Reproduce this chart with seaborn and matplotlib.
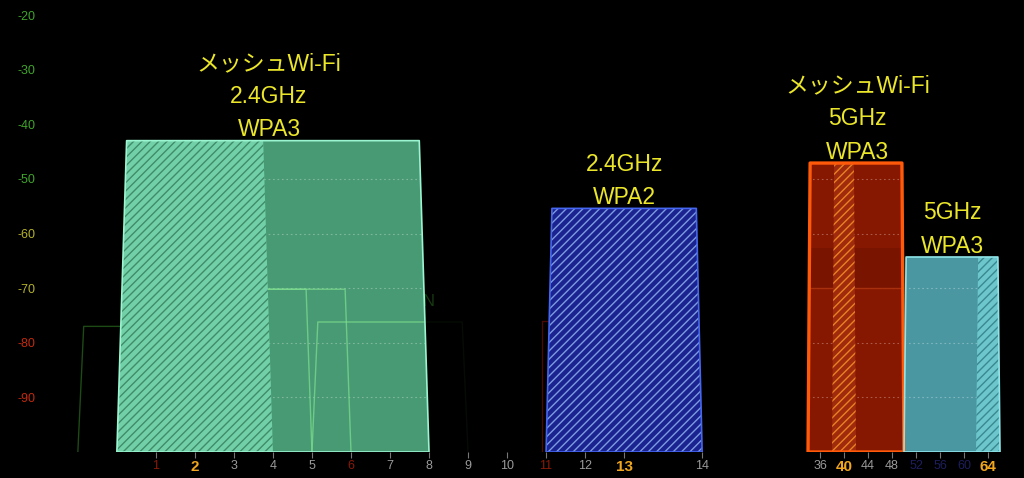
import matplotlib
matplotlib.use("Agg")
import matplotlib.pyplot as plt
import seaborn as sns

sns.set_theme(style="dark", rc={"axes.facecolor": "black", "figure.facecolor": "black"})
plt.rcParams['font.family'] = ['Liberation Sans', 'Noto Sans CJK JP', 'DejaVu Sans']
plt.rcParams['hatch.linewidth'] = 1.0

FLOOR = -100
YELLOW = '#ebe62a'

# signal axis (dBm)
dbm_ticks = [-20, -30, -40, -50, -60, -70, -80, -90]
dbm_colors = ['#3fa52a'] * 4 + ['#b5b22a'] * 2 + ['#c22a0c'] * 2

# 2.4 GHz channels (14 sits one slot past 13)
ch24_labels = ['1', '2', '3', '4', '5', '6', '7', '8', '9', '10', '11', '12', '13', '14']
ch24_slots = [1, 2, 3, 4, 5, 6, 7, 8, 9, 10, 11, 12, 13, 15]
ch24_colors = ['#8a1a08', '#f0a61e', '#9a9a9a', '#9a9a9a', '#9a9a9a', '#8a1a08', '#9a9a9a',
               '#9a9a9a', '#9a9a9a', '#9a9a9a', '#8a1a08', '#9a9a9a', '#f0a61e', '#9a9a9a']
ch24_bold = ['2', '13']

# 5 GHz channels
ch5_labels = ['36', '40', '44', '48', '52', '56', '60', '64']
ch5_colors = ['#9a9a9a', '#f0a61e', '#9a9a9a', '#9a9a9a', '#1e1e5e', '#1e1e5e', '#1e1e5e', '#f0a61e']
ch5_bold = ['40', '64']

# highlighted networks
mesh24_span, mesh24_primary, mesh24_dbm = [0, 8], [0, 4], -43
mesh24_text = "メッシュWi-Fi\n2.4GHz\nWPA3"
wpa2_span, wpa2_primary, wpa2_dbm = [11, 15], [11, 15], -55.4
wpa2_text = "2.4GHz\nWPA2"
mesh5_span, mesh5_primary, mesh5_dbm = [34, 50], [38, 42], -47.1
mesh5_text = "メッシュWi-Fi\n5GHz\nWPA3"
wpa3_span, wpa3_primary, wpa3_dbm = [50, 66], [62, 66], -64.3
wpa3_text = "5GHz\nWPA3"

# faint neighbour networks
bg24_spans = [[-1, 3], [1, 5], [2, 6], [5, 9], [10.9, 14.5]]
bg24_dbm = [-77, -70.2, -70.2, -76.2, -76]
bg24_colors = ['#1d4a15', '#060c05', '#060c05', '#060c05', '#4a0c02']
bg5_spans = [[34, 50]]
bg5_dbm = [-70]


def outline(span, dbm, inset):
    lo, hi = span
    return [lo, lo + inset, hi - inset, hi], [FLOOR, dbm, dbm, FLOOR]


def draw_network(ax, span, primary, dbm, inset, fill, hbase, hcol, edge, lw):
    xs, ys = outline(span, dbm, inset)
    body = ax.fill(xs, ys, facecolor=fill, edgecolor='none', zorder=3)[0]
    for g in dbm_ticks:
        if g < dbm:
            ln, = ax.plot([span[0], span[1]], [g, g], color='white', alpha=0.3, lw=0.8,
                          ls=(0, (1.5, 2.5)), zorder=4)
            ln.set_clip_path(body)
    px, py = outline(primary, dbm, inset)
    ax.fill(px, py, facecolor=hbase, edgecolor='none', zorder=5)
    ax.fill(px, py, facecolor='none', edgecolor=hcol, hatch='////', linewidth=0, zorder=6)
    ax.fill(xs, ys, facecolor='none', edgecolor=edge, lw=lw, joinstyle='round', zorder=7)
    return body


def label(ax, x, dbm, text):
    ax.annotate(text, xy=(x, dbm), xytext=(0, -0.5), textcoords='offset points',
                ha='center', va='bottom', color=YELLOW, fontsize=16.5, linespacing=1.57, zorder=9)


fig = plt.figure(figsize=(10.24, 4.78), dpi=100)
ax1 = fig.add_axes([40 / 1024, 26 / 478, 700 / 1024, 452 / 478])
ax2 = fig.add_axes([750 / 1024, 26 / 478, 274 / 1024, 452 / 478])

for ax in (ax1, ax2):
    ax.set_facecolor('black')
    ax.set_ylim(FLOOR, -17.25)
    for s in ax.spines.values():
        s.set_visible(False)
    ax.grid(False)

# --- 2.4 GHz ---
ax1.set_xlim(-1.97, 15.97)
for span, dbm, c in zip(bg24_spans, bg24_dbm, bg24_colors):
    xs, ys = outline(span, dbm, 0.15 if span[0] < 10 else 0.0)
    sns.lineplot(x=xs, y=ys, sort=False, estimator=None, color=c, lw=1, ax=ax1, zorder=2)

body = draw_network(ax1, mesh24_span, mesh24_primary, mesh24_dbm, 0.25,
                    '#489a74', '#72d0a8', '#3f8c68', '#9af5d0', 1.2)
for span, dbm in zip(bg24_spans[1:4], bg24_dbm[1:4]):
    xs, ys = outline(span, dbm, 0.15)
    ln, = ax1.plot(xs, ys, color='#7fe08e', alpha=0.7, lw=1, zorder=4.5)
    ln.set_clip_path(body)
draw_network(ax1, wpa2_span, wpa2_primary, wpa2_dbm, 0.15,
             '#1b2390', '#1b2390', '#7c9be0', '#4466f0', 1.2)

ax1.text(1.25, -70.5, "HU", color='#163a10', fontsize=12, ha='center', va='center', zorder=1)
ax1.text(8.0, -72.5, "N", color='#163a10', fontsize=12, ha='center', va='center', zorder=1)

label(ax1, 3.9, mesh24_dbm, mesh24_text)
label(ax1, 13, wpa2_dbm, wpa2_text)

ax1.set_xticks(ch24_slots, ch24_labels)
ax1.set_yticks(dbm_ticks, [str(v) for v in dbm_ticks])
ax1.tick_params(axis='x', bottom=True, length=4, width=0.8, color='#777777', pad=2, labelsize=9)
ax1.tick_params(axis='y', left=False, length=0, pad=3, labelsize=9)
for t, c in zip(ax1.get_xticklabels(), ch24_colors):
    t.set_color(c)
    if t.get_text() in ch24_bold:
        t.set_fontweight('bold')
        t.set_fontsize(11)
for t, c in zip(ax1.get_yticklabels(), dbm_colors):
    t.set_color(c)

# --- 5 GHz ---
ax2.set_xlim(24.33, 70)
body5 = draw_network(ax2, mesh5_span, mesh5_primary, mesh5_dbm, 0.35,
                     '#861700', '#a02a0c', '#e98224', '#ff5a0a', 2.4)
ax2.fill([34.4, 49.7, 49.7, 34.4], [-62.6, -62.6, -70, -70], facecolor='#791400',
         edgecolor='none', zorder=4.5)
for span, dbm in zip(bg5_spans, bg5_dbm):
    ln, = ax2.plot(span, [dbm, dbm], color='#a8300e', lw=1, zorder=4.6)
    ln.set_clip_path(body5)
draw_network(ax2, wpa3_span, wpa3_primary, wpa3_dbm, 0.35,
             '#4a97a2', '#6cc6cc', '#3a8890', '#8fe6ea', 1.2)

label(ax2, 42.3, mesh5_dbm, mesh5_text)
label(ax2, 58, wpa3_dbm, wpa3_text)

ax2.set_xticks([int(v) for v in ch5_labels], ch5_labels)
ax2.set_yticks([])
ax2.tick_params(axis='x', bottom=True, length=4, width=0.8, color='#777777', pad=2, labelsize=9)
for t, c in zip(ax2.get_xticklabels(), ch5_colors):
    t.set_color(c)
    if t.get_text() in ch5_bold:
        t.set_fontweight('bold')
        t.set_fontsize(11)

fig.savefig("out.png", dpi=100, facecolor='black')
